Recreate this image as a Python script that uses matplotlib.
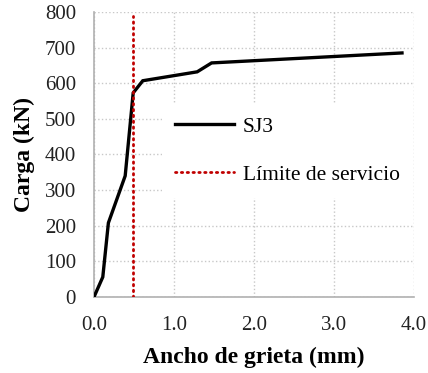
import numpy as np
from matplotlib import pyplot as plt

plt.rcParams['font.family'] = ['Liberation Serif', 'DejaVu Serif']

# curve
crack_width = [0.0, 0.11, 0.18, 0.39, 0.49, 0.61, 1.29, 1.47, 3.85]
load = [0, 56, 208, 340, 573, 607, 632, 657, 685]

limit_x = [0.49, 0.49]
limit_y = [0, 790]

x_ticks = [0.0, 1.0, 2.0, 3.0, 4.0]
y_ticks = [0, 100, 200, 300, 400, 500, 600, 700, 800]

fig = plt.figure(figsize=(4.28, 3.73), dpi=100)
ax = fig.add_axes([0.2196, 0.2038, 0.7477, 0.7641])

ax.plot(crack_width, load, color='black', lw=2.4, label='SJ3', solid_joinstyle='miter', zorder=3)
ax.plot(limit_x, limit_y, color='#C00000', lw=2.0, ls=(0, (0.5, 1.6)),
        dash_capstyle='round', label='Límite de servicio', zorder=4)

ax.set_xlim(0, 4)
ax.set_ylim(0, 800)
ax.set_xticks(x_ticks)
ax.set_xticklabels(['%.1f' % v for v in x_ticks])
ax.set_yticks(y_ticks)
ax.tick_params(length=0, labelsize=15, colors='#222222')
ax.tick_params(axis='y', pad=13)
ax.tick_params(axis='x', pad=14)

ax.grid(True, color='#c8c8c8', ls=':', lw=1.0)
ax.set_axisbelow(True)
for s in ['top', 'right']:
    ax.spines[s].set_visible(False)
for s in ['left', 'bottom']:
    ax.spines[s].set_color('#b0b0b0')
    ax.spines[s].set_linewidth(1.2)

ax.set_xlabel('Ancho de grieta (mm)', fontsize=17, fontweight='bold', labelpad=8)
ax.set_ylabel('Carga (kN)', fontsize=17, fontweight='bold', labelpad=7)

leg = ax.legend(loc='upper left', bbox_to_anchor=(0.18, 0.715), frameon=True,
                fontsize=15.5, handlelength=2.75, handletextpad=0.4,
                labelspacing=1.3, borderpad=0.6)
leg.get_frame().set_edgecolor('none')
leg.get_frame().set_facecolor('white')
leg.get_frame().set_alpha(1.0)

plt.savefig('out.png', dpi=100)
